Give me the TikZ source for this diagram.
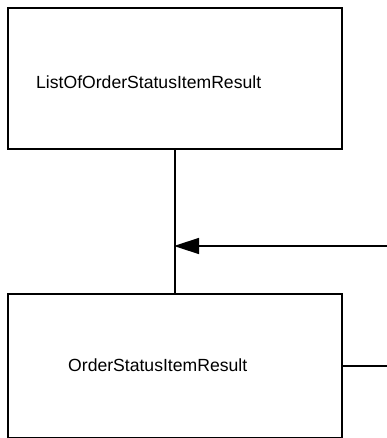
\documentclass[tikz,border=0pt]{standalone}
\usepackage{fontspec}
\setmainfont{Liberation Sans}
\usetikzlibrary{arrows.meta, positioning}

\tikzset{
    classbox/.style={rectangle, draw, line width=2pt, minimum width=334pt, anchor=north west},
    classname/.style={anchor=west, inner sep=0pt, font=\fontsize{17.6}{20}\selectfont},
    link/.style={line width=1.5pt}
}

\begin{document}
\begin{tikzpicture}[x=1pt, y=-1pt]
    \useasboundingbox (0,0) rectangle (387,438);

    % TOP: LIST CLASS
    \node (ListBox) [classbox, minimum height=141pt] at (7,7) {};
    \node (ListName) [classname] at (36,82) {ListOfOrderStatusItemResult};

    % BOTTOM: ITEM CLASS
    \node (ItemBox) [classbox, minimum height=144pt] at (7,293) {};
    \node (ItemName) [classname] at (68,365) {OrderStatusItemResult};

    % CONNECTORS
    \coordinate (Join) at (174,246);
    \coordinate (ArrowStart) at (387,246);
    \draw[link] (ListBox.south) -- (ItemBox.north);
    \draw[link, -{Triangle[length=25pt, width=16pt]}] (ArrowStart) -- (Join);
    \draw[link] (ItemBox.east) -- (ItemBox.east -| ArrowStart);
\end{tikzpicture}
\end{document}
